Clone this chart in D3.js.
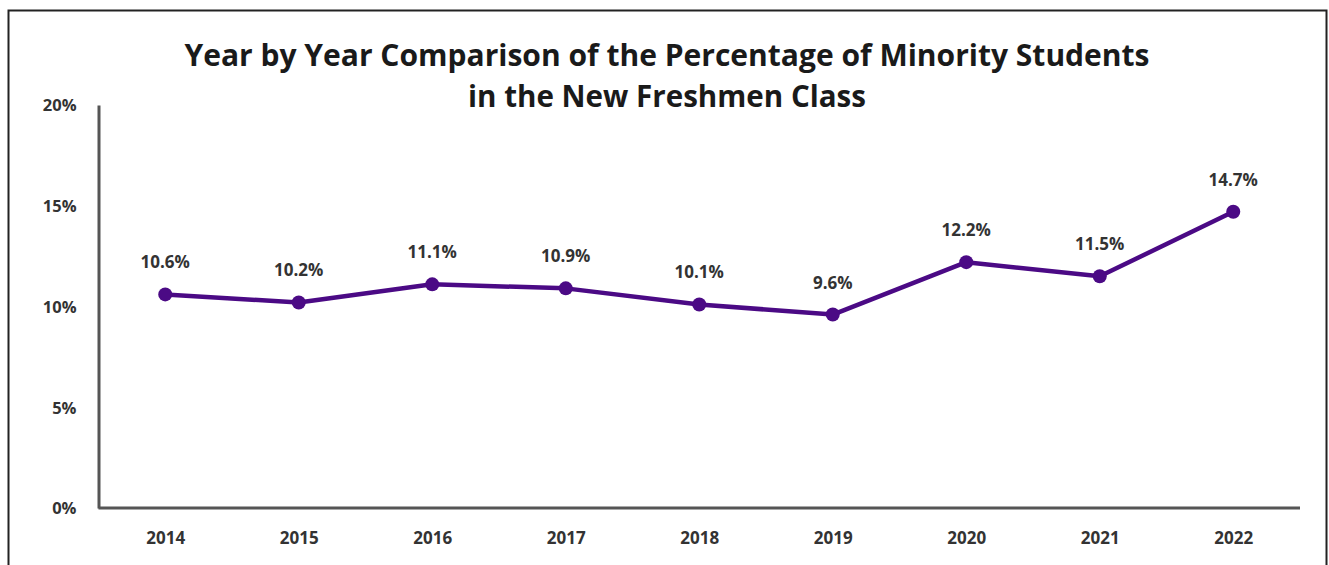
<!DOCTYPE html>
<html><head><meta charset="utf-8">
<script src="https://cdn.jsdelivr.net/npm/d3@7"></script>
<style>body{margin:0;background:#fff;}svg{display:block;}</style>
</head><body>
<svg id="c" width="1329" height="565"></svg>
<script>
const years = ["2014","2015","2016","2017","2018","2019","2020","2021","2022"];
const minorityPct = [10.6, 10.2, 11.1, 10.9, 10.1, 9.6, 12.2, 11.5, 14.7];
const yTicks = [0, 5, 10, 15, 20];
const titleLines = ["Year by Year Comparison of the Percentage of Minority Students", "in the New Freshmen Class"];

(function(){
const svg = d3.select("#c");
const font = "'Open Sans', 'Liberation Sans', sans-serif";

svg.append("rect").attr("x", 8.5).attr("y", 10.5).attr("width", 1318).attr("height", 570)
  .attr("fill", "#fff").attr("stroke", "#222").attr("stroke-width", 2);

const pl = 98.5, pr = 1300, pt = 105, pb = 508;
const x = d3.scalePoint().domain(years).range([pl, pr]).padding(0.5);
const y = d3.scaleLinear().domain([0, 20]).range([pb, pt]);

const title = svg.append("g").attr("font-family", font).attr("font-weight", "bold")
  .attr("font-size", 29.5).attr("fill", "#1a1a1a").attr("text-anchor", "middle");
const titleW = [965, 398];
titleLines.forEach((t, i) => {
  title.append("text").attr("x", 667).attr("y", 66 + i * 41)
    .attr("textLength", titleW[i]).attr("lengthAdjust", "spacingAndGlyphs").text(t);
});

// y axis
const yAxis = d3.axisLeft(y).tickValues(yTicks).tickFormat(d => d + "%").tickSize(0).tickPadding(22);
const yg = svg.append("g").attr("transform", `translate(${pl},0)`).call(yAxis);
yg.select(".domain").attr("stroke", "#555").attr("stroke-width", 3);
yg.selectAll("text").attr("font-family", font).attr("font-weight", "bold").attr("font-size", 16.5).attr("fill", "#333").attr("dy", "0.35em");

// x axis
const xAxis = d3.axisBottom(x).tickSize(0).tickPadding(24);
const xg = svg.append("g").attr("transform", `translate(0,${pb})`).call(xAxis);
xg.select(".domain").attr("d", `M${pl},0H${pr}`).attr("stroke", "#555").attr("stroke-width", 3);
xg.selectAll("text").attr("font-family", font).attr("font-weight", "bold").attr("font-size", 17).attr("fill", "#333");

const data = years.map((yr, i) => ({yr, v: minorityPct[i]}));
const color = "#4b0a85";
svg.append("path").datum(data)
  .attr("d", d3.line().x(d => x(d.yr)).y(d => y(d.v)))
  .attr("fill", "none").attr("stroke", color).attr("stroke-width", 4.5).attr("stroke-linejoin", "round");
svg.selectAll("circle.pt").data(data).join("circle").attr("class", "pt")
  .attr("cx", d => x(d.yr)).attr("cy", d => y(d.v)).attr("r", 7).attr("fill", color);
svg.selectAll("text.lbl").data(data).join("text").attr("class", "lbl")
  .attr("x", d => x(d.yr)).attr("y", d => y(d.v) - 32).attr("dy", "0.35em")
  .attr("text-anchor", "middle").attr("font-family", font).attr("font-weight", "bold")
  .attr("font-size", 17).attr("fill", "#333").text(d => d.v.toFixed(1) + "%");
})();
</script>
</body></html>
